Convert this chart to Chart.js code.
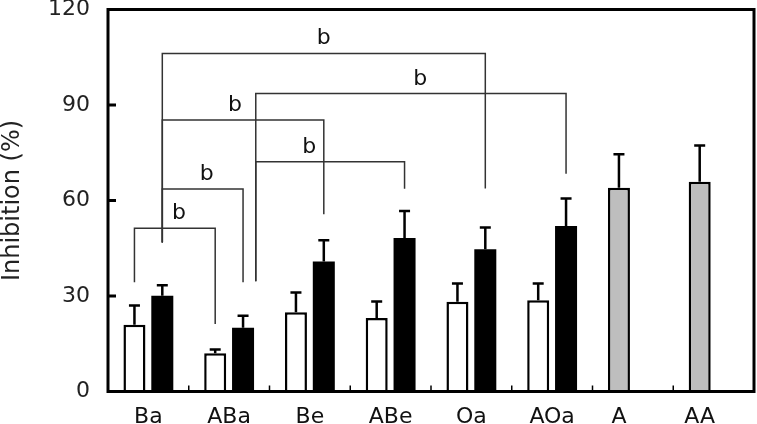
<!DOCTYPE html>
<html>
<head>
<meta charset="utf-8">
<title>Inhibition (%)</title>
<script src="https://cdn.jsdelivr.net/npm/chart.js@4.4.1/dist/chart.umd.min.js"></script>
<style>
  html, body { margin: 0; padding: 0; background: #fff; }
  canvas { display: block; }
</style>
</head>
<body>
<canvas id="chart" width="757" height="424"></canvas>
<script>
/* ─── Data ─────────────────────────────────────────────────────────── */
const categories  = ['Ba', 'ABa', 'Be', 'ABe', 'Oa', 'AOa', 'A', 'AA'];
const openValues  = [21.0, 12.0, 24.9, 23.1, 28.2, 28.7, 64.0, 65.9];
const openErrors  = [6.0, 1.2, 6.2, 5.2, 5.7, 5.2, 10.5, 11.4];
const solidValues = [30.1, 20.0, 40.8, 48.2, 44.7, 52.0, null, null];
const solidErrors = [3.3, 3.8, 6.7, 8.5, 6.8, 8.6, null, null];
const controlCats = ['A', 'AA'];          // drawn grey
const yTickValues = [0, 30, 60, 90, 120];

// significance brackets:
// [left anchor, right anchor, bracket height, left leg end, right leg end, label position 0..1]
// anchor = [category index, dataset index] for a bar, or a plain category coordinate
const brackets = [
  [[0, 1], [4, 1], 106.2, 46.8, 63.8, 0.50],
  [1.33,   [5, 1],  93.6, 34.6, 68.4, 0.53],
  [[0, 1], [2, 1],  85.3, 46.8, 55.7, 0.45],
  [1.33,   [3, 1],  72.2, 34.6, 63.7, 0.36],
  [[0, 1], [1, 1],  63.6, 46.8, 34.3, 0.55],
  [[0, 0], [1, 0],  51.3, 34.3, 21.2, 0.55],
];
const bracketLabel = 'b';

/* ─── Styles ───────────────────────────────────────────────────────── */
const FONT = '"DejaVu Sans", sans-serif';
const INK  = '#000';
const GREY = '#bebebe';

function anchorX(chart, a) {
  if (Array.isArray(a)) return chart.getDatasetMeta(a[1]).data[a[0]].x;
  return chart.scales.x.getPixelForValue(a);
}

function zeroPad(s) {
  s.paddingTop = 0; s.paddingBottom = 0; s.paddingLeft = 0; s.paddingRight = 0;
}

/* ─── Error bars, brackets, frame, x labels ────────────────────────── */
const overlay = {
  id: 'overlay',
  afterDatasetsDraw(chart) {
    const { ctx, chartArea: area, scales: { x, y } } = chart;
    ctx.save();

    // upper error bars
    ctx.strokeStyle = INK;
    ctx.lineWidth = 2.5;
    [openErrors, solidErrors].forEach((errs, di) => {
      const vals = chart.data.datasets[di].data;
      chart.getDatasetMeta(di).data.forEach((bar, i) => {
        if (vals[i] == null || errs[i] == null) return;
        const top = y.getPixelForValue(vals[i] + errs[i]);
        ctx.beginPath();
        ctx.moveTo(bar.x, bar.y);
        ctx.lineTo(bar.x, top);
        ctx.moveTo(bar.x - 5.5, top);
        ctx.lineTo(bar.x + 5.5, top);
        ctx.stroke();
      });
    });

    // brackets
    ctx.strokeStyle = '#333';
    ctx.lineWidth = 1.5;
    ctx.fillStyle = '#111';
    ctx.font = '22px ' + FONT;
    ctx.textAlign = 'center';
    ctx.textBaseline = 'alphabetic';
    brackets.forEach(([l, r, h, lEnd, rEnd, at]) => {
      const x1 = anchorX(chart, l), x2 = anchorX(chart, r);
      const yh = y.getPixelForValue(h);
      ctx.beginPath();
      ctx.moveTo(x1, y.getPixelForValue(lEnd));
      ctx.lineTo(x1, yh);
      ctx.lineTo(x2, yh);
      ctx.lineTo(x2, y.getPixelForValue(rEnd));
      ctx.stroke();
      ctx.fillText(bracketLabel, x1 + (x2 - x1) * at, yh - 9);
    });

    // frame + inner ticks
    ctx.strokeStyle = INK;
    ctx.lineWidth = 3;
    ctx.strokeRect(area.left, area.top, area.right - area.left, area.bottom - area.top);
    ctx.beginPath();
    yTickValues.forEach(v => {
      const py = y.getPixelForValue(v);
      ctx.moveTo(area.left, py);
      ctx.lineTo(area.left + 8, py);
    });
    ctx.stroke();
    ctx.lineWidth = 1.5;
    ctx.beginPath();
    for (let i = 1; i < categories.length; i++) {
      const px = x.getPixelForValue(i - 0.5);
      ctx.moveTo(px, area.bottom);
      ctx.lineTo(px, area.bottom - 6);
    }
    ctx.stroke();

    // category labels, centred under the bars that are drawn
    ctx.fillStyle = '#111';
    ctx.font = '22px ' + FONT;
    categories.forEach((c, i) => {
      const xs = [];
      chart.data.datasets.forEach((ds, di) => {
        if (ds.data[i] != null) xs.push(chart.getDatasetMeta(di).data[i].x);
      });
      const cx = xs.reduce((a, b) => a + b, 0) / xs.length;
      ctx.fillText(c, cx, 423);
    });

    ctx.restore();
  }
};

/* ─── Chart ────────────────────────────────────────────────────────── */
new Chart(document.getElementById('chart'), {
  type: 'bar',
  data: {
    labels: categories,
    datasets: [
      {
        data: openValues,
        backgroundColor: c => controlCats.includes(categories[c.dataIndex]) ? GREY : '#fff',
        borderColor: INK,
        borderWidth: 2.5,
        borderSkipped: 'start',
      },
      {
        data: solidValues,
        backgroundColor: INK,
        borderColor: INK,
        borderWidth: 0,
      },
    ]
  },
  options: {
    responsive: false,
    animation: false,
    categoryPercentage: 0.69,
    barPercentage: 0.79,
    layout: { padding: { left: 0, top: 9.5, right: 3, bottom: 0 } },
    plugins: { legend: { display: false }, tooltip: { enabled: false } },
    scales: {
      x: {
        offset: true,
        grid: { display: false, drawTicks: false },
        border: { display: false },
        ticks: { display: false },
        afterFit: s => { s.height = 32.5; zeroPad(s); }
      },
      y: {
        min: 0,
        max: 120,
        afterBuildTicks: s => { s.ticks = yTickValues.map(v => ({ value: v })); },
        grid: { display: false, drawTicks: false },
        border: { display: false },
        ticks: { font: { family: FONT, size: 22 }, color: '#222', padding: 18 },
        title: {
          display: true,
          text: 'Inhibition (%)',
          color: '#222',
          font: { family: FONT, size: 24, lineHeight: 1.1 },
          padding: 0
        },
        afterFit: s => { s.width = 108; zeroPad(s); }
      }
    }
  },
  plugins: [overlay]
});
</script>
</body>
</html>
